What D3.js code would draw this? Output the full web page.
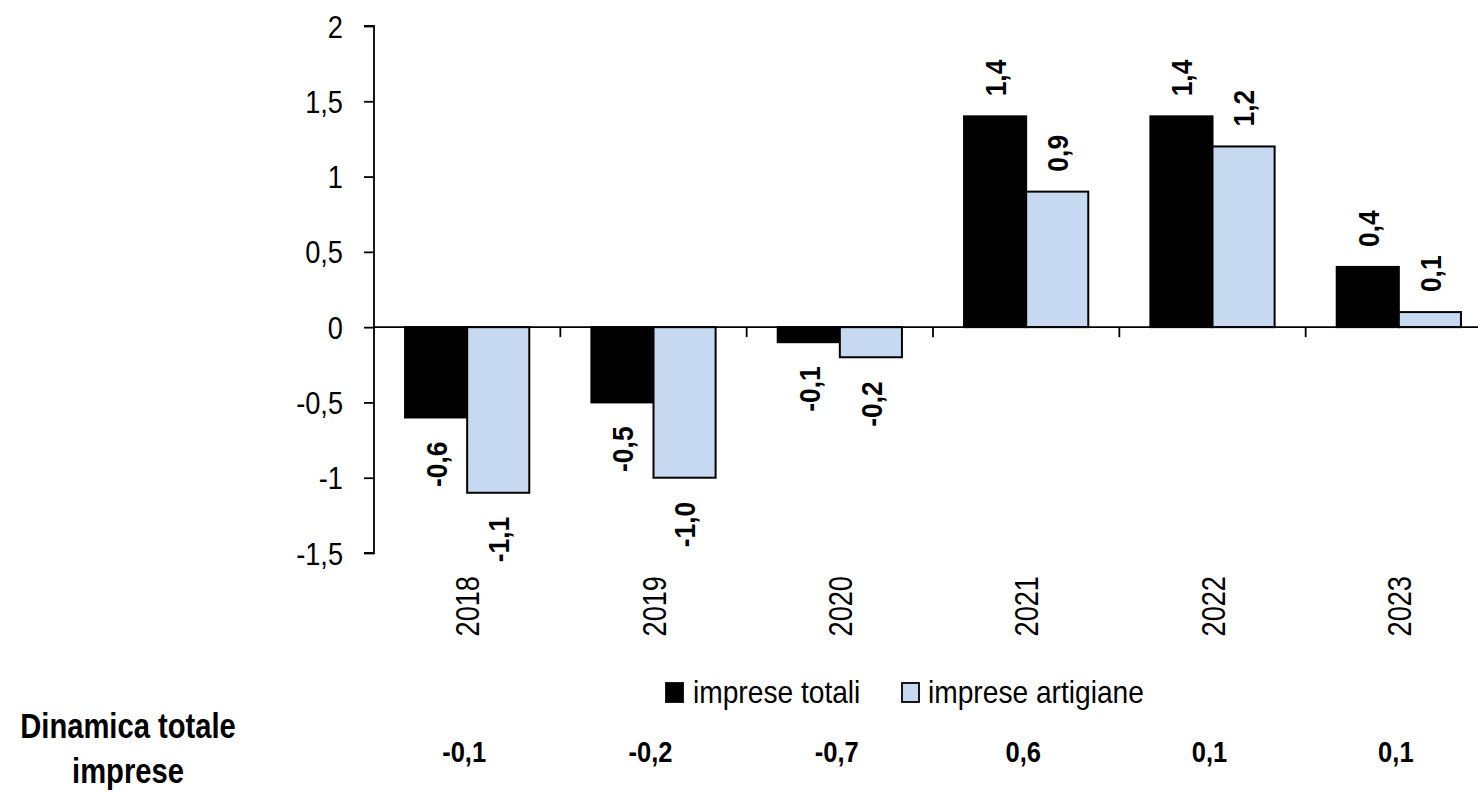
<!DOCTYPE html>
<html>
<head>
<meta charset="utf-8">
<script src="https://cdn.jsdelivr.net/npm/d3@7/dist/d3.min.js"></script>
<style>
  html, body { margin: 0; padding: 0; background: #ffffff; }
  svg { display: block; }
  text { font-family: "Liberation Sans", Arial, sans-serif; fill: #000; }
</style>
</head>
<body>
<svg id="chart" width="1478" height="793"></svg>
<script>
// ---- data ----
const years = ["2018", "2019", "2020", "2021", "2022", "2023"];
const impreseTotali = [-0.6, -0.5, -0.1, 1.4, 1.4, 0.4];
const impreseArtigiane = [-1.1, -1.0, -0.2, 0.9, 1.2, 0.1];
const dinamicaTotale = [-0.1, -0.2, -0.7, 0.6, 0.1, 0.1];
const yTicks = [-1.5, -1, -0.5, 0, 0.5, 1, 1.5, 2];
const seriesNames = ["imprese totali", "imprese artigiane"];
const seriesColors = ["#000000", "#C6D9F0"];

const svg = d3.select("#chart");
const fmt = v => String(v).replace(".", ",");
const fmt1 = v => d3.format(".1f")(v).replace(".", ",").replace("−", "-");

const x0 = d3.scaleBand().domain(years).range([374, 1492])
  .paddingInner(1/3).paddingOuter(1/6);
const x1 = d3.scaleBand().domain([0, 1]).range([0, x0.bandwidth()]).padding(0);
const y = d3.scaleLinear().domain([-1.5, 2]).range([553, 26]);

// helper for condensed text
function addText(g, x, yy, str, opts) {
  const rot = opts.rotate || 0;
  const sx = opts.sx || 1;
  return g.append("text")
    .attr("transform", `translate(${x},${yy}) rotate(${rot}) scale(${sx},1)`)
    .attr("text-anchor", opts.anchor || "start")
    .attr("dy", opts.dy || 0)
    .style("font-size", opts.size + "px")
    .style("font-weight", opts.bold ? "bold" : "normal")
    .text(str);
}

// ---- y axis ----
const yAxis = d3.axisLeft(y).tickValues(yTicks).tickSize(10).tickFormat(fmt).tickPadding(20);
const gy = svg.append("g").attr("transform", "translate(374,0)").call(yAxis);
gy.select(".domain").attr("stroke", "#000").attr("stroke-width", 1.8).attr("d", `M-10,${y(2)}H0V${y(-1.5)}H-10`);
gy.selectAll(".tick line").attr("stroke", "#000").attr("stroke-width", 1.8);
gy.selectAll(".tick text").remove();
yTicks.forEach(t => {
  addText(gy, -31, y(t), fmt(t), {anchor: "end", size: 32, sx: 0.85, dy: "0.36em"});
});

// ---- bars ----
const gBars = svg.append("g");
years.forEach((yr, i) => {
  [impreseTotali[i], impreseArtigiane[i]].forEach((v, s) => {
    const bx = x0(yr) + x1(s);
    gBars.append("rect")
      .attr("x", bx)
      .attr("y", y(Math.max(0, v)))
      .attr("width", x1.bandwidth())
      .attr("height", Math.abs(y(v) - y(0)))
      .attr("fill", seriesColors[s])
      .attr("stroke", "#000")
      .attr("stroke-width", 2);
  });
});

// ---- x axis at zero ----
const gx = svg.append("g");
gx.append("line").attr("x1", 374).attr("x2", 1478).attr("y1", y(0)).attr("y2", y(0))
  .attr("stroke", "#000").attr("stroke-width", 1.8);
years.forEach((yr, i) => {
  const tx = x0(yr) - x0.step() * x0.paddingInner() / 2;
  if (i > 0) {
    gx.append("line").attr("x1", tx).attr("x2", tx).attr("y1", y(0)).attr("y2", y(0) + 10)
      .attr("stroke", "#000").attr("stroke-width", 1.8);
  }
});

// ---- value labels ----
const gLab = svg.append("g");
years.forEach((yr, i) => {
  [impreseTotali[i], impreseArtigiane[i]].forEach((v, s) => {
    const cx = x0(yr) + x1(s) + x1.bandwidth() / 2;
    if (v >= 0) {
      addText(gLab, cx, y(v) - 20, fmt1(v), {rotate: -90, anchor: "start", size: 30, bold: true, sx: 0.88, dy: "0.36em"});
    } else {
      addText(gLab, cx, y(v) + 24, fmt1(v), {rotate: -90, anchor: "end", size: 30, bold: true, sx: 0.88, dy: "0.36em"});
    }
  });
});

// ---- year labels ----
years.forEach(yr => {
  const cx = x0(yr) + x0.bandwidth() / 2;
  addText(svg, cx, 576, yr, {rotate: -90, anchor: "end", size: 34, sx: 0.8, dy: "0.36em"});
});

// ---- legend ----
const gLeg = svg.append("g");
const legX = [666, 902];
const legTextX = [693, 928];
seriesNames.forEach((n, s) => {
  gLeg.append("rect").attr("x", legX[s]).attr("y", 683).attr("width", 17).attr("height", 19)
    .attr("fill", seriesColors[s]).attr("stroke", "#000").attr("stroke-width", 1.8);
  addText(gLeg, legTextX[s], 703, n, {size: 32, sx: 0.88});
});

// ---- bottom row ----
addText(svg, 128, 738, "Dinamica totale", {anchor: "middle", size: 36, bold: true, sx: 0.81});
addText(svg, 128, 783, "imprese", {anchor: "middle", size: 36, bold: true, sx: 0.81});
years.forEach((yr, i) => {
  const cx = x0(yr) + x0.bandwidth() / 2;
  addText(svg, cx - 3, 762, fmt1(dinamicaTotale[i]), {anchor: "middle", size: 29, bold: true, sx: 0.88});
});
</script>
</body>
</html>
